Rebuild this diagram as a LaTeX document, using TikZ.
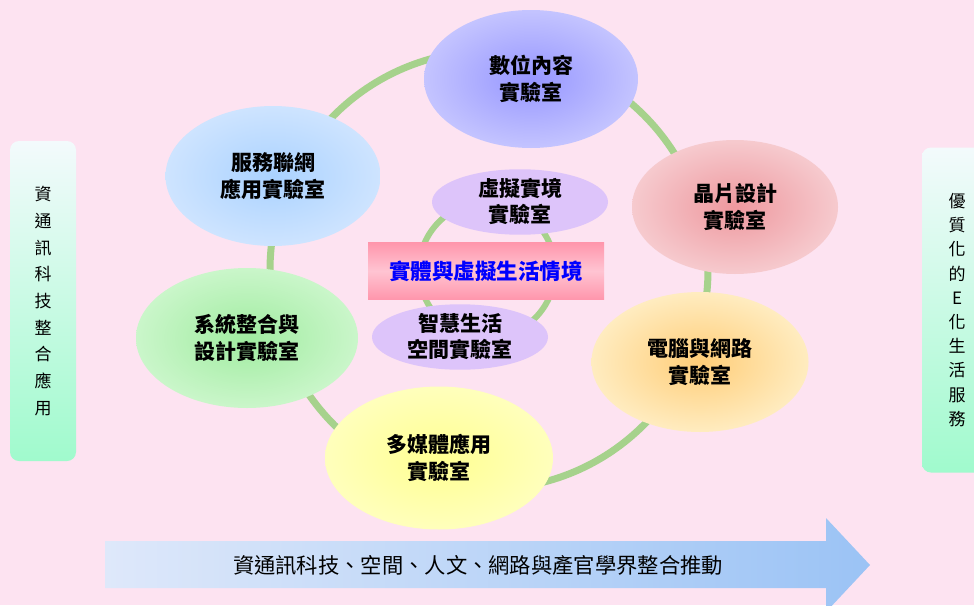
\documentclass[tikz,border=0pt]{standalone}
\usepackage{fontspec}
\setmainfont{Liberation Serif}
\newfontfamily\cjk{Noto Sans CJK TC}
\usepackage{tikz}
\usetikzlibrary{shapes.geometric}

\definecolor{pagebg}{RGB}{253,227,241}
\definecolor{ringgreen}{RGB}{166,210,140}
\definecolor{digitalIn}{RGB}{150,150,255}
\definecolor{digitalOut}{RGB}{196,196,255}
\definecolor{chipIn}{RGB}{238,152,158}
\definecolor{chipOut}{RGB}{246,202,206}
\definecolor{netIn}{RGB}{255,205,120}
\definecolor{netOut}{RGB}{255,236,192}
\definecolor{mediaIn}{RGB}{255,255,145}
\definecolor{mediaOut}{RGB}{255,255,188}
\definecolor{systemIn}{RGB}{160,236,160}
\definecolor{systemOut}{RGB}{202,246,202}
\definecolor{serviceIn}{RGB}{170,210,255}
\definecolor{serviceOut}{RGB}{206,228,255}
\definecolor{subpurple}{RGB}{221,196,250}
\definecolor{rectdark}{RGB}{255,150,172}
\definecolor{rectlight}{RGB}{255,196,210}
\definecolor{barTop}{RGB}{243,250,252}
\definecolor{barBottom}{RGB}{160,250,205}
\definecolor{arrowL}{RGB}{222,232,250}
\definecolor{arrowR}{RGB}{155,195,245}

\begin{document}
\begin{tikzpicture}[x=1pt, y=-1pt,
  lab/.style={ellipse, inner sep=0pt, align=center, shading=radial,
    font=\cjk\bfseries\fontsize{21}{27}\selectfont},
  sublab/.style={ellipse, inner sep=0pt, fill=subpurple, align=center,
    minimum width=176pt, minimum height=63pt,
    font=\cjk\bfseries\fontsize{21}{26}\selectfont},
  sidebar/.style={rounded corners=9pt, inner sep=0pt, align=center,
    top color=barTop, bottom color=barBottom,
    font=\cjk\fontsize{17}{26.7}\selectfont},
  ring/.style={draw=ringgreen, line width=7pt}]

\clip (0,0) rectangle (974,605);
\fill[pagebg] (0,0) rectangle (974,605);

% outer loop of labs
\coordinate (hub) at (489,270);
\draw[ring] (hub) circle (219);

\foreach \n/\x/\y/\w/\h/\t in {
    digital/531/79/214/138/{數位內容\\實驗室},
    chip/735/207/206/134/{晶片設計\\實驗室},
    net/700/362/217/140/{電腦與網路\\實驗室},
    media/439/458/228/143/{多媒體應用\\實驗室},
    system/247/338/222/140/{系統整合與\\設計實驗室},
    service/273/176/215/140/{服務聯網\\應用實驗室}}
  \node[lab, inner color=\n In, outer color=\n Out,
        minimum width=\w pt, minimum height=\h pt] (\n) at (\x,\y) {\t};

% inner loop
\coordinate (core) at (487,270);
\draw[ring, line width=6pt] (core) circle (68);

\node[sublab] (virtual) at (520,202) {虛擬實境\\實驗室};
\node[sublab] (smart) at (460,337) {智慧生活\\空間實驗室};

\node[minimum width=236pt, minimum height=57pt, inner sep=0pt,
      top color=rectdark, bottom color=rectdark, middle color=rectlight,
      text=blue, font=\cjk\bfseries\fontsize{21.5}{21.5}\selectfont]
  (scene) at (486,271) {實體與虛擬生活情境};

% side bars
\node[sidebar, minimum width=66pt, minimum height=320pt]
  (apply) at (43,301) {資\\通\\訊\\科\\技\\整\\合\\應\\用};
\node[sidebar, minimum width=70pt, minimum height=325pt,
      font=\cjk\fontsize{17}{24.2}\selectfont]
  (life) at (957,310) {優\\質\\化\\的\\E\\化\\生\\活\\服\\務};

% bottom arrow
\shade[left color=arrowL, right color=arrowR]
  (105,541) -- (826,541) -- (826,518) -- (870,565) -- (826,612)
  -- (826,588) -- (105,588) -- cycle;
\node[font=\cjk\fontsize{21.3}{21.3}\selectfont] (drive) at (478,565)
  {資通訊科技、空間、人文、網路與產官學界整合推動};
\end{tikzpicture}
\end{document}
